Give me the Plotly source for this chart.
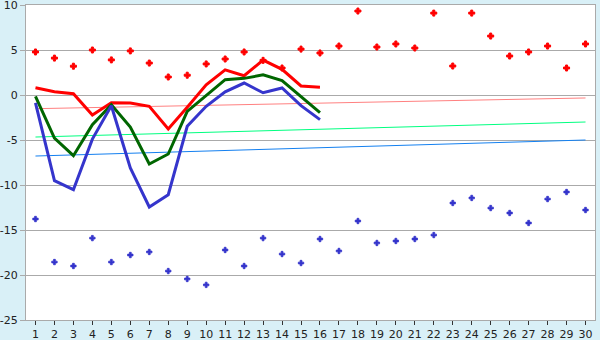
import plotly.graph_objects as go

days = list(range(1, 31))
line_days = list(range(1, 17))

red_points = [4.78, 4.1, 3.2, 5.0, 3.9, 4.9, 3.55, 2.0, 2.2, 3.45,
              4.0, 4.78, 3.85, 3.0, 5.1, 4.67, 5.44, 9.33, 5.33, 5.67,
              5.22, 9.1, 3.22, 9.1, 6.55, 4.33, 4.78, 5.44, 3.0, 5.67]
blue_points = [-13.78, -18.56, -19.0, -15.9, -18.56, -17.78, -17.44, -19.56, -20.44, -21.1,
               -17.22, -19.0, -15.9, -17.67, -18.67, -16.0, -17.33, -14.0, -16.44, -16.22,
               -16.0, -15.56, -12.0, -11.44, -12.56, -13.11, -14.22, -11.56, -10.78, -12.78]

red_line = [0.81, 0.37, 0.15, -2.22, -0.86, -0.89, -1.26, -3.78, -1.37, 1.14,
            2.8, 2.14, 3.88, 2.85, 1.0, 0.85]
green_line = [-0.15, -4.78, -6.74, -3.3, -1.08, -3.56, -7.67, -6.56, -1.82, -0.08,
              1.7, 1.85, 2.24, 1.6, -0.2, -1.97]
blue_line = [-0.88, -9.52, -10.52, -4.9, -1.2, -8.1, -12.44, -11.08, -3.48, -1.26,
             0.35, 1.33, 0.25, 0.78, -1.19, -2.74]

trend_days = [1, 30]
pink_trend = [-1.52, -0.33]
lgreen_trend = [-4.67, -3.0]
lblue_trend = [-6.78, -5.0]

y_ticks = [10, 5, 0, -5, -10, -15, -20, -25]
y_labels = ["10", "5", "0", "-5", "-10", "-15", "-20", "-25"]

fig = go.Figure()
fig.add_trace(go.Scatter(x=trend_days, y=pink_trend, mode="lines",
                         line=dict(color="#FF8080", width=1)))
fig.add_trace(go.Scatter(x=trend_days, y=lgreen_trend, mode="lines",
                         line=dict(color="#00FF80", width=1)))
fig.add_trace(go.Scatter(x=trend_days, y=lblue_trend, mode="lines",
                         line=dict(color="#1480F0", width=1)))
fig.add_trace(go.Scatter(x=line_days, y=red_line, mode="lines",
                         line=dict(color="#FF0000", width=3)))
fig.add_trace(go.Scatter(x=line_days, y=green_line, mode="lines",
                         line=dict(color="#006600", width=3)))
fig.add_trace(go.Scatter(x=line_days, y=blue_line, mode="lines",
                         line=dict(color="#3535CC", width=3)))
fig.add_trace(go.Scatter(x=days, y=red_points, mode="markers",
                         marker=dict(symbol="cross", color="#FF0000", size=5,
                                     line=dict(width=1, color="#FF0000"))))
fig.add_trace(go.Scatter(x=days, y=blue_points, mode="markers",
                         marker=dict(symbol="cross", color="#3535CC", size=4.5,
                                     line=dict(width=0.8, color="#3535CC"))))

fig.update_layout(
    width=600, height=340,
    margin=dict(l=26, r=5, t=5, b=20, autoexpand=False),
    paper_bgcolor="#D9F0F7",
    plot_bgcolor="#FFFFFF",
    showlegend=False,
    font=dict(family="DejaVu Sans", size=11, color="#222222"),
)
fig.update_xaxes(
    range=[0.5, 30.5], tickmode="array", tickvals=days, ticktext=[str(d) for d in days],
    showgrid=False, zeroline=False, showline=True, linecolor="#AAAAAA", linewidth=1,
    mirror=True, ticks="outside", ticklen=4, tickcolor="#333333", automargin=False,
    ticklabeloverflow="allow",
)
fig.update_yaxes(
    range=[-25, 10], tickmode="array", tickvals=y_ticks, ticktext=y_labels,
    showgrid=True, gridcolor="#AAAAAA", gridwidth=1, zeroline=False,
    showline=True, linecolor="#AAAAAA", linewidth=1, mirror=True,
    ticks="outside", ticklen=5, tickcolor="#AAAAAA", automargin=False,
    ticklabeloverflow="allow",
)
fig.write_html("out.html", config={"displayModeBar": False},
               post_script="document.body.style.margin='0';document.body.style.background='#D9F0F7';")
